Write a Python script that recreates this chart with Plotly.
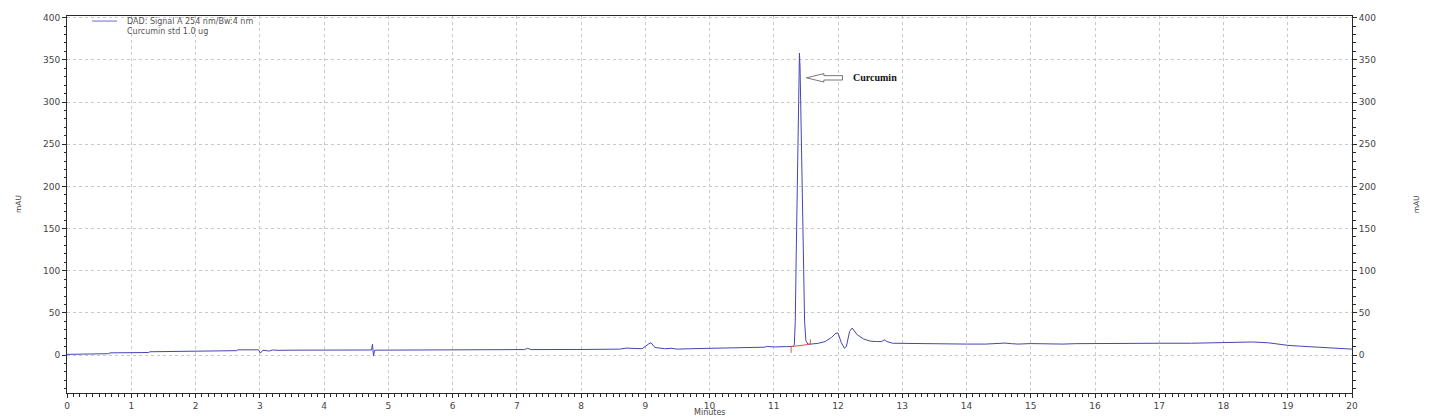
import plotly.graph_objects as go

# Chromatogram data (minutes, mAU)
time_min = [0.0, 0.2, 0.65, 0.67, 1.0, 1.27, 1.29, 2.0, 2.01, 2.64, 2.66, 2.98, 3.01, 3.05, 3.12, 3.15, 3.2, 3.3,
            3.5, 4.0, 4.5, 4.74, 4.755, 4.77, 4.79, 5.0, 6.0, 7.0, 7.12, 7.17, 7.22, 8.0, 8.6, 8.7, 8.8, 8.95,
            9.05, 9.09, 9.15, 9.3, 9.4, 9.5, 9.7, 10.0, 10.5, 10.85, 10.9, 11.0, 11.2, 11.3,
            11.32, 11.335, 11.35, 11.37, 11.385, 11.40, 11.41, 11.425, 11.44, 11.46, 11.48, 11.50, 11.53, 11.58,
            11.7, 11.8, 11.9, 11.97, 12.0, 12.05, 12.1, 12.13, 12.18, 12.22, 12.3, 12.4, 12.5, 12.6, 12.68,
            12.72, 12.76, 12.85, 13.0, 13.5, 13.55, 14.0, 14.3, 14.5, 14.6, 14.7, 14.8, 15.0, 15.1, 15.3,
            15.4, 15.5, 15.7, 16.0, 17.0, 17.5, 17.9, 18.1, 18.2, 18.45, 18.7, 18.9, 19.0, 19.2, 19.5, 19.8, 20.0]
signal_mau = [0.8, 1.3, 1.6, 2.6, 2.7, 3.0, 3.9, 4.3, 4.9, 5.2, 6.2, 6.2, 2.3, 5.8, 5.0, 4.8, 6.0, 5.6,
              5.8, 5.9, 6.0, 6.0, 13.0, -1.0, 5.8, 5.9, 6.1, 6.3, 6.5, 8.0, 6.5, 6.6, 7.0, 8.2, 8.0, 7.5,
              13.0, 14.6, 9.0, 7.5, 8.0, 7.0, 7.5, 8.0, 8.5, 9.3, 10.2, 9.6, 10.0, 10.3,
              12.0, 40.0, 120.0, 200.0, 300.0, 358.0, 340.0, 270.0, 190.0, 110.0, 40.0, 17.0, 13.0, 13.0,
              14.0, 16.0, 21.0, 26.0, 26.0, 15.0, 8.0, 10.0, 28.0, 32.0, 24.0, 19.0, 16.5, 16.0, 16.0,
              18.0, 16.0, 14.0, 13.8, 13.8, 13.0, 13.0, 13.0, 13.5, 14.2, 13.5, 13.0, 13.6, 13.4, 13.0,
              13.6, 13.0, 13.5, 13.8, 14.0, 14.0, 14.3, 14.6, 15.0, 15.5, 14.5, 12.2, 11.5, 10.5, 9.0, 8.0, 7.0]

# Integration baseline marks (red)
base_x = [11.27, 11.27, None, 11.27, 11.57, None, 11.57, 11.57]
base_y = [2.7, 10.0, None, 10.0, 12.8, None, 12.8, 18.6]

legend_lines = ["DAD: Signal A 254 nm/Bw:4 nm", "Curcumin std 1.0 ug"]
peak_name = "Curcumin"
x_ticks = list(range(0, 21))
y_ticks = list(range(0, 401, 50))

AXIS = "#2a2a2a"
SANS = "DejaVu Sans, Liberation Sans, Arial, sans-serif"
TICKFONT = dict(family=SANS, size=9, color="#444444")
GRID = "#c9c9c9"

fig = go.Figure()
fig.add_trace(go.Scatter(x=time_min, y=signal_mau, mode="lines",
                         line=dict(color="#4545b8", width=1), showlegend=False, hoverinfo="x+y"))
fig.add_trace(go.Scatter(x=base_x, y=base_y, mode="lines",
                         line=dict(color="#d9534f", width=1), showlegend=False, hoverinfo="skip"))
# invisible trace for right axis
fig.add_trace(go.Scatter(x=[time_min[0]], y=[signal_mau[0]], mode="lines", yaxis="y2",
                         line=dict(color="rgba(0,0,0,0)", width=0), showlegend=False, hoverinfo="skip"))

# Peak annotation: hollow block arrow pointing to the peak
ipk = signal_mau.index(max(signal_mau))
px = time_min[ipk]
tip_x = px + 0.11
head_x = tip_x + 0.27
tail_x = tip_x + 0.56
ay = 328.7
hh, sh = 5.0, 2.6
path = (f"M {tip_x},{ay} L {head_x},{ay + hh} L {head_x},{ay + sh} L {tail_x},{ay + sh} "
        f"L {tail_x},{ay - sh} L {head_x},{ay - sh} L {head_x},{ay - hh} Z")
fig.add_shape(type="path", path=path, xref="x", yref="y",
              line=dict(color="#555555", width=0.8), fillcolor="white")
fig.add_annotation(x=tail_x + 0.14, y=ay, xref="x", yref="y", text=f"<b>{peak_name}</b>",
                   showarrow=False, xanchor="left", yanchor="middle",
                   font=dict(family="Liberation Serif, Times New Roman, serif", size=10, color="#111111"))

# Legend box (top-left)
fig.add_shape(type="line", x0=0.39, x1=0.78, y0=396, y1=396, xref="x", yref="y",
              line=dict(color="#6a6ad8", width=1))
fig.add_annotation(x=0.9, y=1.0, xref="x", yref="paper", text="<br>".join(legend_lines), showarrow=False,
                   xanchor="left", yanchor="top", align="left", yshift=1,
                   font=dict(family=SANS, size=8, color="#555555"))

# Axis titles
fig.add_annotation(x=-0.0428, y=0.5, xref="paper", yref="paper", text="mAU", showarrow=False,
                   textangle=-90, font=dict(family=SANS, size=7.5, color="#444444"))
fig.add_annotation(x=1.0555, y=0.5, xref="paper", yref="paper", text="mAU", showarrow=False,
                   textangle=-90, font=dict(family=SANS, size=7.5, color="#444444"))
fig.add_annotation(x=0.5, y=-0.0504, xref="paper", yref="paper", text="Minutes", showarrow=False,
                   yanchor="middle", font=dict(family=SANS, size=8, color="#444444"))

# The page body has an 8px margin, so the figure is sized/margined to place the plot area
fig.update_layout(
    width=1422, height=411,
    margin=dict(l=59, r=78, t=8, b=26, autoexpand=False),
    paper_bgcolor="white", plot_bgcolor="white",
    xaxis=dict(range=[0, 20], tickvals=x_ticks, ticktext=[str(v) for v in x_ticks], automargin=False,
               showgrid=True, gridcolor=GRID, griddash="dot", gridwidth=1,
               showline=True, linecolor=AXIS, linewidth=1, mirror=True,
               ticks="outside", ticklen=4, tickcolor=AXIS, tickfont=TICKFONT,
               minor=dict(dtick=0.1, ticks="outside", ticklen=2.5, tickcolor=AXIS, showgrid=False),
               zeroline=False),
    yaxis=dict(range=[-45, 402], tickvals=y_ticks, ticktext=[str(v) for v in y_ticks], automargin=False,
               showgrid=True, gridcolor=GRID, griddash="dot", gridwidth=1,
               showline=True, linecolor=AXIS, linewidth=1,
               ticks="outside", ticklen=4, tickcolor=AXIS, tickfont=TICKFONT,
               minor=dict(dtick=10, tick0=0, ticks="outside", ticklen=2.5, tickcolor=AXIS, showgrid=False),
               zeroline=False),
    yaxis2=dict(range=[-45, 402], overlaying="y", side="right", tickvals=y_ticks, automargin=False,
                ticktext=[str(v) for v in y_ticks], showgrid=False,
                showline=True, linecolor=AXIS, linewidth=1,
                ticks="outside", ticklen=4, tickcolor=AXIS, tickfont=TICKFONT,
                minor=dict(dtick=10, tick0=0, ticks="outside", ticklen=2.5, tickcolor=AXIS, showgrid=False),
                zeroline=False),
)

fig.write_html("out.html")
